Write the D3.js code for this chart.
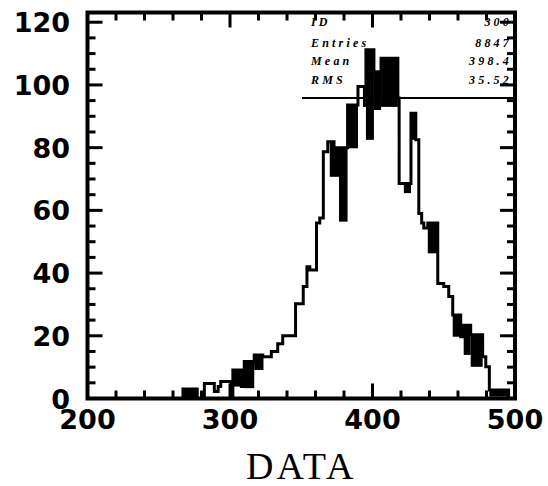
<!DOCTYPE html>
<html>
<head>
<meta charset="utf-8">
<script src="https://cdn.jsdelivr.net/npm/d3@7"></script>
<style>
  html, body { margin: 0; padding: 0; background: #fff; }
  svg { display: block; }
</style>
</head>
<body>
<svg id="chart" width="548" height="486"></svg>
<script>
// ---- data ----
const xMajorTicks = [200, 300, 400, 500];
const xMinorTicks = [220, 240, 260, 280, 320, 340, 360, 380, 420, 440, 460, 480];
const yMajorTicks = [0, 20, 40, 60, 80, 100, 120];
const yMinorTicks = [5, 10, 15, 25, 30, 35, 45, 50, 55, 65, 70, 75, 85, 90, 95, 105, 110, 115];
const xTitle = "DATA";

// histogram outline: start of each step and its content
const stepStart = [200, 267, 277, 282, 289, 291.7, 293.5, 300.8, 302, 308, 310, 317, 323, 329, 333.5, 337,
  346, 351.4, 354, 356, 360.7, 363, 365.5, 368.6, 373, 382.5, 389.8, 393.3, 395.4, 401, 406, 417.8,
  418.7, 422, 427, 430.4, 432.5, 434.5, 436, 438.8, 445.8, 450, 453.5, 456.3, 461.9, 464, 468.9,
  477.3, 479.5, 482, 495.5];
const stepValue = [0, 3, 0, 4.8, 2.2, 3.8, 5.4, 0, 9.1, 3.8, 11.8, 13.9, 13.3, 15, 17.5, 20,
  30.2, 35.7, 42, 41, 56, 57.6, 78.7, 81.9, 80, 93.6, 99.5, 99.5, 111.2, 104.2, 108.5, 95.8,
  68.6, 68.6, 91, 82.5, 59, 56, 54.4, 56, 36.7, 35.7, 32.5, 26.6, 19.7, 23.4, 20.3,
  13.3, 10.1, 2.7, 0];
const histEnd = 500;

// dense fluctuation regions (bin-to-bin spread drawn solid)
const bandFrom = [267, 302, 310, 317, 370, 373, 376.5, 382.5, 393.3, 395.4, 401, 406, 422, 427, 438.8, 456.3, 464, 468.9, 482];
const bandTo   = [277, 308, 317, 323.5, 373, 376.5, 382.5, 389.8, 395.4, 401, 406, 417.8, 427, 430.4, 445.8, 461.9, 468.9, 477.3, 495.5];
const bandLow  = [0, 3.8, 3.3, 9.1, 70.7, 70.7, 56.4, 79.8, 93, 82.5, 92, 93, 65.5, 82.5, 46.3, 19.7, 13.9, 10.1, 0.6];
const bandHigh = [3, 9.1, 11.8, 13.9, 81.9, 80, 80, 93.6, 99.5, 111.2, 104.2, 108.5, 68.6, 91, 56, 26.6, 23.4, 20.3, 2.7];

// statistics box
const statNames = ["ID", "Entries", "Mean", "RMS"];
const statValues = ["300", "8847", "398.4", "35.52"];

// ---- drawing ----
const svg = d3.select("#chart");
const frame = { left: 87.5, right: 515, top: 12.5, bottom: 398.5 };
const majorLen = 15, minorLen = 8, tw = 3;

const x = d3.scaleLinear().domain([200, 500]).range([frame.left, frame.right]);
const y = d3.scaleLinear().domain([0, 123.1]).range([frame.bottom, frame.top]);

const labelFont = "'DejaVu Sans', sans-serif";

// tick labels
const lab = svg.append("g").attr("font-family", labelFont).attr("font-size", 27)
  .attr("font-weight", "bold").attr("fill", "#000");
lab.selectAll(".xl").data(xMajorTicks).join("text").attr("class", "xl")
  .attr("x", d => x(d)).attr("y", 429).attr("text-anchor", "middle").text(d => d);
lab.selectAll(".ylab").data(yMajorTicks).join("text").attr("class", "ylab")
  .attr("x", 70).attr("y", d => y(d) + 10).attr("text-anchor", "end").text(d => d);

// histogram bands
const bands = bandFrom.map((f, i) => ({ x0: f, x1: bandTo[i], lo: bandLow[i], hi: bandHigh[i] }));
svg.append("g").selectAll("rect").data(bands).join("rect")
  .attr("x", d => x(d.x0))
  .attr("width", d => x(d.x1) - x(d.x0))
  .attr("y", d => y(d.hi))
  .attr("height", d => y(d.lo) - y(d.hi))
  .attr("fill", "#000");

// histogram outline
const pts = stepStart.map((s, i) => [s, stepValue[i]]);
pts.push([histEnd, stepValue[stepValue.length - 1]]);
svg.append("path")
  .attr("d", d3.line().x(d => x(d[0])).y(d => y(d[1])).curve(d3.curveStepAfter)(pts))
  .attr("fill", "none").attr("stroke", "#000").attr("stroke-width", 3);

// stats box
const statRowY = [22, 43, 61, 80];
const stats = svg.append("g").attr("font-family", "'Liberation Serif', serif")
  .attr("font-style", "italic").attr("font-weight", "bold").attr("font-size", 12)
  .attr("letter-spacing", "3.2px");
statNames.forEach((n, i) => {
  stats.append("text").attr("x", 311).attr("y", statRowY[i]).attr("dy", "0.35em").text(n);
  stats.append("text").attr("x", 512).attr("y", statRowY[i]).attr("dy", "0.35em")
    .attr("text-anchor", "end").text(statValues[i]);
});
svg.append("line").attr("x1", 302).attr("x2", frame.right).attr("y1", 98).attr("y2", 98)
  .attr("stroke", "#000").attr("stroke-width", 2);

// frame
svg.append("rect").attr("x", frame.left).attr("y", frame.top)
  .attr("width", frame.right - frame.left).attr("height", frame.bottom - frame.top)
  .attr("fill", "none").attr("stroke", "#000").attr("stroke-width", 4);

// x title
svg.append("text").attr("x", (frame.left + frame.right) / 2).attr("y", 479)
  .attr("text-anchor", "middle").attr("font-family", "'Liberation Serif', serif")
  .attr("font-size", 38).attr("letter-spacing", "3px").text(xTitle);

// ticks (pointing inward on all four sides)
const xTicks = xMinorTicks.map(v => ({ v, len: minorLen })).concat(xMajorTicks.map(v => ({ v, len: majorLen })));
const yTicks = yMinorTicks.map(v => ({ v, len: minorLen })).concat(yMajorTicks.map(v => ({ v, len: majorLen })));
const tickG = svg.append("g").attr("fill", "#000");
tickG.selectAll(".xb").data(xTicks).join("rect").attr("class", "xb")
  .attr("x", d => x(d.v) - tw / 2).attr("width", tw)
  .attr("y", d => frame.bottom - d.len).attr("height", d => d.len);
tickG.selectAll(".xt").data(xTicks).join("rect").attr("class", "xt")
  .attr("x", d => x(d.v) - tw / 2).attr("width", tw)
  .attr("y", frame.top).attr("height", d => d.len);
tickG.selectAll(".yl").data(yTicks).join("rect").attr("class", "yl")
  .attr("y", d => y(d.v) - tw / 2).attr("height", tw)
  .attr("x", frame.left).attr("width", d => d.len);
tickG.selectAll(".yr").data(yTicks).join("rect").attr("class", "yr")
  .attr("y", d => y(d.v) - tw / 2).attr("height", tw)
  .attr("x", d => frame.right - d.len).attr("width", d => d.len);
</script>
</body>
</html>
